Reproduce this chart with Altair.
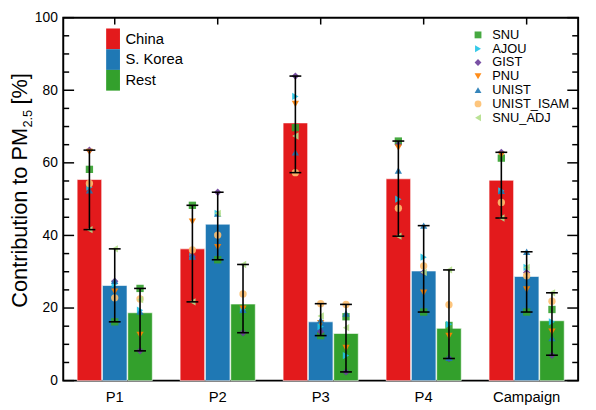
import altair as alt
import pandas as pd

periods = ["P1", "P2", "P3", "P4", "Campaign"]
sources = ["China", "S. Korea", "Rest"]
models = ["SNU", "AJOU", "GIST", "PNU", "UNIST", "UNIST_ISAM", "SNU_ADJ"]

# bar heights (mean contribution, %)
bar_china = [55.4, 36.3, 71.0, 55.6, 55.2]
bar_korea = [26.2, 43.1, 16.2, 30.2, 28.7]
bar_rest = [18.7, 21.1, 13.0, 14.4, 16.5]

# individual model estimates (%), per period
snu_china = [58.2, 48.3, 69.7, 66.0, 61.3]
snu_korea = [16.2, 33.3, 12.4, 18.9, 18.9]
snu_rest = [25.4, 18.0, 17.6, 15.2, 19.6]

ajou_china = [53.3, 34.2, 78.3, 50.0, 52.3]
ajou_korea = [26.6, 46.1, 14.9, 34.0, 31.2]
ajou_rest = [19.4, 19.5, 6.9, 15.5, 16.2]

gist_china = [63.5, 34.2, 83.9, 65.0, 62.9]
gist_korea = [27.4, 51.9, 13.5, 29.8, 29.8]
gist_rest = [8.2, 13.2, 2.4, 6.1, 7.0]

pnu_china = [63.0, 43.8, 76.2, 64.2, 62.2]
pnu_korea = [24.5, 36.8, 15.8, 24.2, 25.1]
pnu_rest = [12.6, 19.8, 9.0, 12.3, 13.5]

unist_china = [52.4, 34.2, 62.9, 57.9, 52.3]
unist_korea = [27.5, 46.0, 16.7, 42.7, 35.5]
unist_rest = [19.0, 19.5, 18.5, 6.3, 11.7]

isam_china = [54.3, 36.0, 57.3, 47.5, 49.1]
isam_korea = [22.8, 40.1, 21.2, 31.6, 28.9]
isam_rest = [22.5, 23.9, 21.0, 20.9, 21.9]

adj_china = [41.6, 21.7, 67.4, 39.8, 44.8]
adj_korea = [36.3, 46.1, 17.8, 29.8, 31.2]
adj_rest = [22.3, 32.0, 14.6, 30.5, 24.2]

major_ticks = [0, 20, 40, 60, 80, 100]
minor_ticks = [5, 10, 15, 25, 30, 35, 45, 50, 55, 65, 70, 75, 85, 90, 95]

title_parts = ["Contribution to PM", "2.5", "[%]"]

source_colors = ["#e31a1c", "#1f78b4", "#33a02c"]
model_colors = ["#33a02c", "#1fc3e6", "#6a3d9a", "#ff7f00", "#1f78b4", "#fdbf6f", "#b2df8a"]
model_shapes = ["square", "triangle-right", "diamond", "triangle-down",
                "triangle-up", "circle", "triangle-left"]

# ---- tables ----
bar_rows = []
for vals, src in zip([bar_china, bar_korea, bar_rest], sources):
    for p, v in zip(periods, vals):
        bar_rows.append({"period": p, "source": src, "value": v})
bars_df = pd.DataFrame(bar_rows)

model_data = {
    "SNU": (snu_china, snu_korea, snu_rest),
    "AJOU": (ajou_china, ajou_korea, ajou_rest),
    "GIST": (gist_china, gist_korea, gist_rest),
    "PNU": (pnu_china, pnu_korea, pnu_rest),
    "UNIST": (unist_china, unist_korea, unist_rest),
    "UNIST_ISAM": (isam_china, isam_korea, isam_rest),
    "SNU_ADJ": (adj_china, adj_korea, adj_rest),
}
mrows = []
for m in models:
    for vals, src in zip(model_data[m], sources):
        for p, v in zip(periods, vals):
            mrows.append({"model": m, "period": p, "source": src, "value": v})
models_df = pd.DataFrame(mrows)

major_df = pd.DataFrame({"v": major_ticks})
minor_df = pd.DataFrame({"v": minor_ticks})
period_df = pd.DataFrame({"period": periods})

W, H = 522, 368
FONT = "Liberation Sans"

x_scale = alt.Scale(domain=periods, paddingInner=0.27, paddingOuter=0.135)
x_axis = alt.Axis(title=None, labelAngle=0, ticks=False, domain=False, grid=False,
                  labelPadding=9, labelFontSize=15, labelColor="black", labelFont=FONT)
y_scale = alt.Scale(domain=[0, 100], nice=False, zero=True)
y_axis = alt.Axis(title=None, values=major_ticks, ticks=False, domain=False, grid=False,
                  labelPadding=6, labelFontSize=14, labelColor="black", labelFont=FONT)
xo_scale = alt.Scale(domain=sources, paddingInner=0.03, paddingOuter=0)


def X():
    return alt.X("period:N", sort=periods, scale=x_scale, axis=x_axis)


def XO():
    return alt.XOffset("source:N", sort=sources, scale=xo_scale)


def Y(field):
    return alt.Y(field, type="quantitative", scale=y_scale, axis=y_axis)


leg_src = alt.Legend(title=None, orient="none", legendX=43, legendY=14,
                     symbolType="M-1,-1.5H1V1.5H-1Z", symbolSize=196,
                     symbolStrokeWidth=0, labelFontSize=15, labelFont=FONT,
                     labelColor="black", labelOffset=5, rowPadding=0, padding=0)
leg_mod = alt.Legend(title=None, orient="none", legendX=414, legendY=11,
                     symbolSize=48, symbolStrokeWidth=0, labelFontSize=13,
                     labelFont=FONT, labelColor="black", labelOffset=8,
                     rowPadding=0, padding=0)

bars = alt.Chart(bars_df).mark_bar(stroke="white", strokeWidth=0.6).encode(
    x=X(), xOffset=XO(), y=Y("value"),
    fill=alt.Fill("source:N", sort=sources,
                  scale=alt.Scale(domain=sources, range=source_colors), legend=leg_src),
)

points = alt.Chart(models_df).mark_point(filled=True, size=55, opacity=0.9).encode(
    x=X(), xOffset=XO(), y=Y("value"),
    color=alt.Color("model:N", sort=models,
                    scale=alt.Scale(domain=models, range=model_colors), legend=leg_mod),
    shape=alt.Shape("model:N", sort=models,
                    scale=alt.Scale(domain=models, range=model_shapes), legend=leg_mod),
)

err = alt.Chart(models_df).mark_rule(color="black", strokeWidth=1.6).encode(
    x=X(), xOffset=XO(), y=Y("min(value)"), y2=alt.Y2("max(value)"),
)
cap_lo = alt.Chart(models_df).mark_tick(color="black", size=12, thickness=1.6).encode(
    x=X(), xOffset=XO(), y=Y("min(value)"),
)
cap_hi = alt.Chart(models_df).mark_tick(color="black", size=12, thickness=1.6).encode(
    x=X(), xOffset=XO(), y=Y("max(value)"),
)

lmaj = alt.Chart(major_df).mark_rule(color="black", strokeWidth=1.5).encode(
    y=Y("v"), x=alt.value(0), x2=alt.value(11))
lmin = alt.Chart(minor_df).mark_rule(color="black", strokeWidth=1.5).encode(
    y=Y("v"), x=alt.value(0), x2=alt.value(6))
rmaj = alt.Chart(major_df).mark_rule(color="black", strokeWidth=1.5).encode(
    y=Y("v"), x=alt.value(W - 11), x2=alt.value(W))
rmin = alt.Chart(minor_df).mark_rule(color="black", strokeWidth=1.5).encode(
    y=Y("v"), x=alt.value(W - 6), x2=alt.value(W))
top_ticks = alt.Chart(period_df).mark_rule(color="black", strokeWidth=1.5).encode(
    x=X(), y=alt.value(0), y2=alt.value(7))

t1 = alt.Chart(pd.DataFrame({"t": [title_parts[0]]})).mark_text(
    angle=270, align="left", baseline="alphabetic", fontSize=22, font=FONT, color="black"
).encode(x=alt.value(-36.5), y=alt.value(294), text="t:N")
t2 = alt.Chart(pd.DataFrame({"t": [title_parts[1]]})).mark_text(
    angle=270, align="left", baseline="alphabetic", fontSize=13, font=FONT, color="black"
).encode(x=alt.value(-31.5), y=alt.value(111.5), text="t:N")
t3 = alt.Chart(pd.DataFrame({"t": [title_parts[2]]})).mark_text(
    angle=270, align="left", baseline="alphabetic", fontSize=22, font=FONT, color="black"
).encode(x=alt.value(-36.5), y=alt.value(88), text="t:N")

chart = alt.layer(
    bars, points, err, cap_lo, cap_hi, lmaj, lmin, rmaj, rmin, top_ticks, t1, t2, t3
).properties(
    width=W, height=H,
    autosize=alt.AutoSizeParams(type="none"),
    padding={"left": 56, "top": 7, "right": 10, "bottom": 27},
).configure(font=FONT).configure_view(stroke="black", strokeWidth=2)

chart.save("out.html", embed_options={"renderer": "svg", "actions": False})
